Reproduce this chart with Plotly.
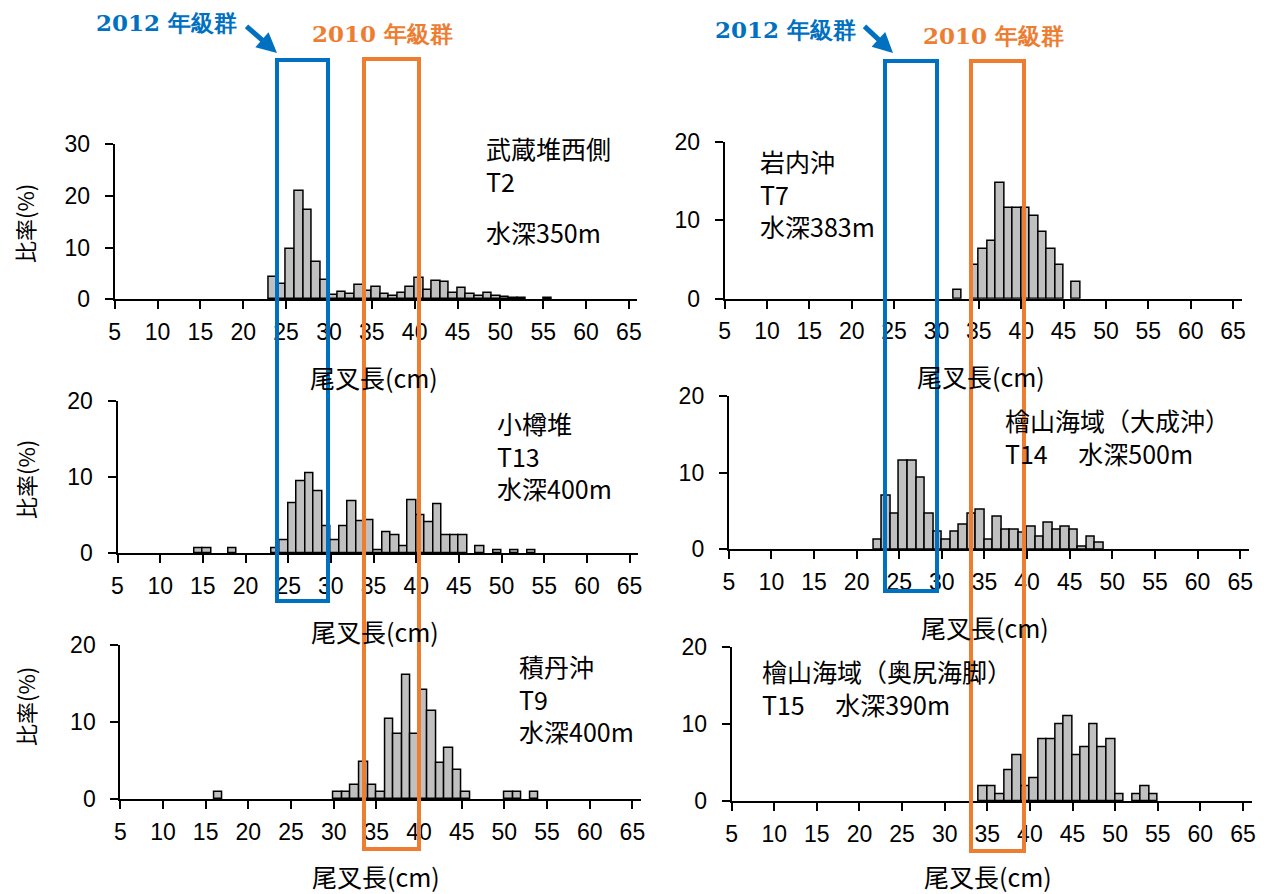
import plotly.graph_objects as go

W, H = 1276, 894

# ---------------- data (bin start in cm, percentage) ----------------
t2_len = [23, 24, 25, 26, 27, 28, 29, 30, 31, 32, 33, 34, 35, 36, 37, 38, 39, 40,
          41, 42, 43, 44, 45, 46, 47, 48, 49, 50, 51, 52, 55]
t2_pct = [4.4, 3.0, 9.7, 20.9, 17.3, 7.3, 3.7, 0.8, 1.5, 1.0, 2.8, 1.7, 2.3, 1.0, 0.7, 1.3, 2.4, 4.2,
          1.8, 3.6, 3.3, 1.2, 2.1, 1.0, 0.7, 1.2, 0.7, 0.4, 0.3, 0.2, 0.3]

t7_len = [32, 34, 35, 36, 37, 38, 39, 40, 41, 42, 43, 44, 46]
t7_pct = [1.1, 4.3, 6.3, 7.4, 14.8, 11.6, 11.6, 11.6, 10.6, 8.5, 6.4, 4.3, 2.1]

t13_len = [14, 15, 18, 23, 24, 25, 26, 27, 28, 29, 30, 31, 32, 33, 34, 35, 36, 37, 38, 39,
           40, 41, 42, 43, 44, 45, 47, 49, 51, 53]
t13_pct = [0.6, 0.6, 0.6, 0.6, 1.7, 6.5, 9.4, 10.5, 8.1, 3.5, 1.7, 3.5, 6.8, 4.2, 4.3, 0.4, 2.7, 2.3, 0.9, 6.9,
           5.0, 4.1, 6.4, 2.3, 2.3, 2.3, 0.9, 0.4, 0.4, 0.4]

t14_len = [22, 23, 24, 25, 26, 27, 28, 29, 30, 31, 32, 33, 34, 35, 36, 37, 38, 39, 40,
           41, 42, 43, 44, 45, 46, 47, 48]
t14_pct = [1.2, 7.0, 4.7, 11.6, 11.6, 9.3, 4.7, 2.3, 1.2, 2.3, 3.2, 4.7, 5.1, 1.3, 4.3, 2.5, 2.5, 2.1, 3.0,
           1.7, 3.4, 2.5, 3.0, 2.5, 0.4, 1.7, 0.9]

t9_len = [16, 30, 31, 32, 33, 34, 35, 36, 37, 38, 39, 40, 41, 42, 43, 44, 45, 50, 51, 53]
t9_pct = [0.95, 0.95, 0.95, 1.9, 4.8, 1.9, 0.95, 10.4, 8.5, 16.1, 8.5, 14.2, 11.4, 4.75, 6.6, 3.8, 0.95,
          0.95, 0.95, 0.95]

t15_len = [34, 35, 36, 37, 38, 39, 40, 41, 42, 43, 44, 45, 46, 47, 48, 49, 50, 52, 53, 54]
t15_pct = [1.95, 1.95, 0.95, 4.0, 6.0, 1.95, 3.0, 8.0, 8.0, 10.0, 11.0, 6.0, 7.0, 10.0, 7.0, 8.0, 0.95,
           0.95, 1.95, 0.95]

x_ticks = [5, 10, 15, 20, 25, 30, 35, 40, 45, 50, 55, 60, 65]
x_title = "尾叉長(cm)"
y_title = "比率(%)"
label_2012 = "2012 年級群"
label_2010 = "2010 年級群"

# in-panel label blocks (each block is one text, lines joined with <br>)
panels = [
    dict(len=t2_len, pct=t2_pct, ymax=30, yt=[0, 10, 20, 30],
         blocks=[["武蔵堆西側", "T2"], ["水深350m"]]),
    dict(len=t7_len, pct=t7_pct, ymax=20, yt=[0, 10, 20],
         blocks=[["岩内沖", "T7", "水深383m"]]),
    dict(len=t13_len, pct=t13_pct, ymax=20, yt=[0, 10, 20],
         blocks=[["小樽堆", "T13", "水深400m"]]),
    dict(len=t14_len, pct=t14_pct, ymax=20, yt=[0, 10, 20],
         blocks=[["檜山海域（大成沖）", "T14\u3000 水深500m"]]),
    dict(len=t9_len, pct=t9_pct, ymax=20, yt=[0, 10, 20],
         blocks=[["積丹沖", "T9", "水深400m"]]),
    dict(len=t15_len, pct=t15_pct, ymax=20, yt=[0, 10, 20],
         blocks=[["檜山海域（奥尻海脚）", "T15\u3000 水深390m"]]),
]

# ---------------- layout geometry (pixels) ----------------
# (x at 5 cm, px per cm, y of 0, y of top)
geom = [
    (114.7, 8.570, 299.3, 144.0),
    (724.6, 8.475, 298.7, 142.0),
    (117.5, 8.535, 553.0, 401.3),
    (728.8, 8.523, 549.3, 395.7),
    (120.3, 8.535, 799.3, 645.0),
    (731.6, 8.523, 801.3, 647.3),
]
# block positions: (x_left, y_center) per block
block_pos = [
    [(484, 164), (484, 232)],
    [(758, 193)],
    [(495, 455)],
    [(1003, 436)],
    [(517, 698)],
    [(760, 687)],
]
xtitle_pos = [(374, 377), (981, 376), (375, 631), (985, 627), (376, 876), (988, 876)]
ytitle_pos = [(24, 224), None, (25, 480), None, (25, 707), None]


def px(x):
    return x / W


def py(y):
    return 1 - y / H


fig = go.Figure()
layout = dict(
    width=W, height=H,
    margin=dict(l=0, r=0, t=0, b=0, autoexpand=False),
    paper_bgcolor="white", plot_bgcolor="white",
    showlegend=False,
    bargap=0,
)
annotations = []
shapes = []

for i, (p, g) in enumerate(zip(panels, geom)):
    n = i + 1
    xa = "x" if n == 1 else f"x{n}"
    ya = "y" if n == 1 else f"y{n}"
    x5, pcm, y0, ytop = g
    xend = x5 + 61 * pcm
    fig.add_trace(go.Bar(
        x=[v + 0.5 for v in p["len"]], y=p["pct"], width=1,
        marker=dict(color="#C0C0C0", line=dict(color="black", width=1.5)),
        xaxis=xa, yaxis=ya, hoverinfo="skip",
    ))
    layout[f"xaxis{'' if n == 1 else n}"] = dict(
        domain=[px(x5), px(xend)], anchor=ya, range=[5, 66],
        tickmode="array", tickvals=x_ticks, ticktext=[str(t) for t in x_ticks],
        showline=True, linecolor="black", linewidth=2,
        ticks="outside", ticklen=8, tickwidth=2, tickcolor="black",
        showgrid=False, zeroline=False, fixedrange=True,
        tickfont=dict(family="Liberation Sans, Arial, sans-serif", size=23, color="black"),
        ticklabelstandoff=3,
    )
    layout[f"yaxis{'' if n == 1 else n}"] = dict(
        domain=[py(y0), py(ytop)], anchor=xa, range=[0, p["ymax"]],
        tickmode="array", tickvals=p["yt"], ticktext=[str(t) for t in p["yt"]],
        showline=True, linecolor="black", linewidth=2,
        ticks="outside", ticklen=8, tickwidth=2, tickcolor="black",
        showgrid=False, zeroline=False, fixedrange=True,
        tickfont=dict(family="Liberation Sans, Arial, sans-serif", size=23, color="black"),
        ticklabelstandoff=10,
    )
    for block, (tx, ty) in zip(p["blocks"], block_pos[i]):
        annotations.append(dict(
            text="<br>".join(block), x=px(tx), y=py(ty), xref="paper", yref="paper",
            xanchor="left", yanchor="middle", align="left", showarrow=False,
            font=dict(family="Noto Sans CJK JP, sans-serif", size=25, color="black"),
        ))
    tx, ty = xtitle_pos[i]
    annotations.append(dict(
        text=x_title, x=px(tx), y=py(ty), xref="paper", yref="paper",
        xanchor="center", yanchor="middle", showarrow=False,
        font=dict(family="Noto Sans CJK JP, sans-serif", size=25, color="black"),
    ))
    if ytitle_pos[i]:
        tx, ty = ytitle_pos[i]
        annotations.append(dict(
            text=y_title, x=px(tx), y=py(ty), xref="paper", yref="paper",
            xanchor="center", yanchor="middle", showarrow=False, textangle=-90,
            font=dict(family="Noto Sans CJK JP, sans-serif", size=22, color="black"),
        ))

BLUE = "#0070C0"
ORANGE = "#ED7D31"
rects = [
    (277, 60, 328, 601, BLUE),
    (364, 59, 419, 849, ORANGE),
    (885, 61, 937, 591, BLUE),
    (971, 61, 1024, 851, ORANGE),
]
for x0, y0, x1, y1, c in rects:
    shapes.append(dict(type="rect", xref="paper", yref="paper",
                       x0=px(x0), x1=px(x1), y0=py(y1), y1=py(y0),
                       line=dict(color=c, width=4), fillcolor="rgba(0,0,0,0)"))

header_font = "DejaVu Serif, Liberation Serif, serif"
for text, cx, cy, c in [(label_2012, 166, 23, BLUE), (label_2010, 382, 33, ORANGE),
                        (label_2012, 785, 30, BLUE), (label_2010, 993, 36, ORANGE)]:
    annotations.append(dict(
        text=f"<b>{text}</b>", x=px(cx), y=py(cy), xref="paper", yref="paper",
        xanchor="center", yanchor="middle", showarrow=False,
        font=dict(family=header_font, size=23, color=c),
    ))

for (tx, ty), (hx, hy) in [((245, 25), (277, 53)), ((863, 25), (893, 53))]:
    annotations.append(dict(
        text="", x=px(hx), y=py(hy), xref="paper", yref="paper",
        ax=tx - hx, ay=ty - hy, axref="pixel", ayref="pixel",
        showarrow=True, arrowhead=2, arrowsize=0.8, arrowwidth=5, arrowcolor=BLUE,
        standoff=0,
    ))

layout["annotations"] = annotations
layout["shapes"] = shapes
fig.update_layout(**layout)

pin_page = (
    "document.documentElement.style.margin='0';"
    "document.body.style.margin='0';"
    "document.body.style.overflow='hidden';"
    "var gd=document.getElementById('{plot_id}');"
    "gd.style.position='absolute';gd.style.left='0px';gd.style.top='0px';"
)
fig.write_html("out.html", post_script=pin_page)
